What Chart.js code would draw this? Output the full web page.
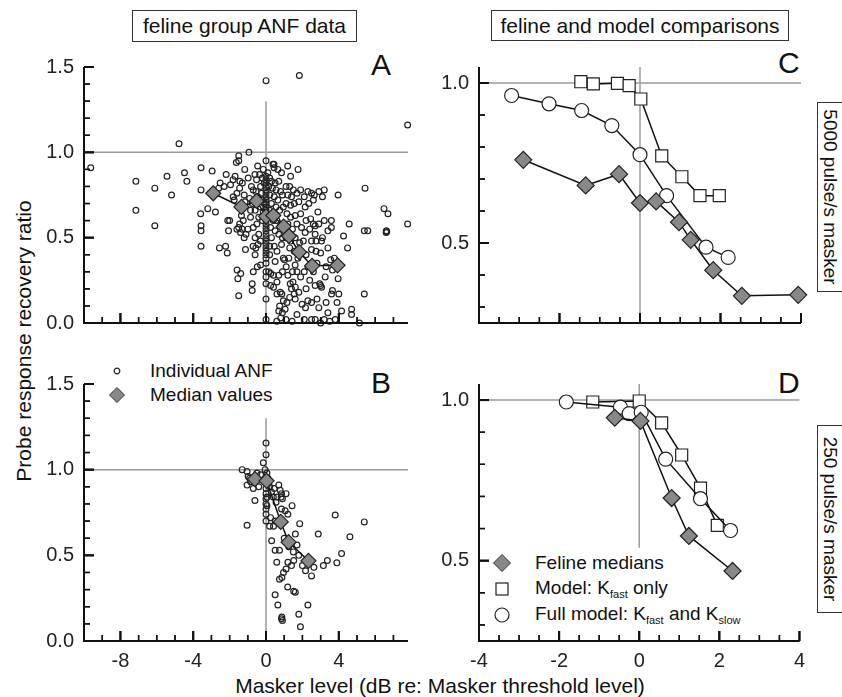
<!DOCTYPE html>
<html>
<head>
<meta charset="utf-8">
<script src="https://cdn.jsdelivr.net/npm/chart.js@4.4.1/dist/chart.umd.min.js"></script>
<style>
  body { margin: 0; background: #fff; }
  #page { position: relative; width: 842px; height: 697px; overflow: hidden;
          font-family: "Liberation Sans", Arial, sans-serif; color: #111; }
  #page canvas { position: absolute; }
  .t { position: absolute; white-space: nowrap; }
  .box { border: 1px solid #333; text-align: center; box-sizing: border-box; background: #fff; }
  .letter { font-size: 30px; }
  .leg { font-size: 19px; line-height: 22px; }
  .leg sub { font-size: 11px; vertical-align: -4px; }
  svg { position: absolute; overflow: visible; }
</style>
</head>
<body>
<div id="page">
  <div class="t box" style="left:132px;top:10px;width:225px;height:32px;font-size:21px;line-height:30px;">feline group ANF data</div>
  <div class="t box" style="left:491px;top:10px;width:298px;height:31px;font-size:21px;line-height:29px;">feline and model comparisons</div>

  <div class="t letter" style="left:371px;top:48px;">A</div>
  <div class="t letter" style="left:371px;top:366px;">B</div>
  <div class="t letter" style="left:778px;top:46px;">C</div>
  <div class="t letter" style="left:778px;top:366px;">D</div>

  <div class="t" style="left:-136px;top:329px;width:320px;height:24px;line-height:24px;text-align:center;font-size:21px;transform:rotate(-90deg);">Probe response recovery ratio</div>
  <div class="t" style="left:190px;top:674px;width:500px;text-align:center;font-size:21px;line-height:24px;">Masker level (dB re: Masker threshold level)</div>

  <div class="t box" style="left:735px;top:184px;width:190px;height:26px;line-height:24px;font-size:19px;transform:rotate(90deg);">5000 pulse/s masker</div>
  <div class="t box" style="left:736px;top:506px;width:188px;height:26px;line-height:24px;font-size:19px;transform:rotate(90deg);">250 pulse/s masker</div>

  <svg style="left:117px;top:371px" width="1" height="1"><circle cx="0" cy="0" r="2.8" fill="none" stroke="#222" stroke-width="1.2"/></svg>
  <div class="t leg" style="left:150px;top:360px;">Individual ANF</div>
  <svg style="left:117px;top:395px" width="1" height="1"><polygon points="-7.5,0 0,-7.5 7.5,0 0,7.5" fill="#888" stroke="#333" stroke-width="1"/></svg>
  <div class="t leg" style="left:150px;top:384px;">Median values</div>

  <svg style="left:502px;top:563px" width="1" height="1"><polygon points="-8.5,0 0,-8.5 8.5,0 0,8.5" fill="#888" stroke="#333" stroke-width="1"/></svg>
  <div class="t leg" style="left:535px;top:552px;">Feline medians</div>
  <svg style="left:502px;top:589px" width="1" height="1"><rect x="-6" y="-6" width="12" height="12" fill="#fff" stroke="#222" stroke-width="1.2"/></svg>
  <div class="t leg" style="left:535px;top:577px;">Model: K<sub>fast</sub> only</div>
  <svg style="left:502px;top:615px" width="1" height="1"><circle cx="0" cy="0" r="7" fill="#fff" stroke="#222" stroke-width="1.2"/></svg>
  <div class="t leg" style="left:535px;top:603px;">Full model: K<sub>fast</sub> and K<sub>slow</sub></div>
</div>

<script>
// --- tick labels ---
const xTicksAB = [-8, -4, 0, 4];
const yTicksAB = [0, 0.5, 1.0, 1.5];
const xTicksCD = [-4, -2, 0, 2, 4];
const yTicksCD = [0.5, 1.0];

// --- panel A : 5000 pulse/s, individual fibres + medians ---
const anf5000 = [
  [-9.63,0.91],[-7.15,0.83],[-7.15,0.66],[-6.11,0.79],[-6.11,0.57],[-5.44,0.86],[-5.19,0.75],[-4.78,1.05],
  [-4.48,0.88],[-4.35,0.83],[-3.57,0.91],[-3.57,0.78],[-2.96,0.89],[-3.59,0.64],[-3.2,0.67],[-3.57,0.57],
  [-3.57,0.54],[-3.57,0.45],[-2.78,0.65],[-2.56,0.44],[-2.22,0.45],[-2.13,0.41],
  [-1.5,0.98],[-0.94,1.0],[-1.5,0.95],[-1.17,0.9],[-2.19,0.87],[-1.81,0.84],[-2.52,0.82],[-1.44,0.83],
  [-0.98,0.85],[-2.6,0.79],[-2.3,0.8],[-1.95,0.81],[-1.7,0.86],[-1.63,0.94],[-1.6,0.76],[-1.75,0.72],
  [-1.45,0.79],[-1.3,0.82],[-1.2,0.75],[-1.15,0.71],[-1.8,0.74],[-2.0,0.6],[-2.06,0.54],[-2.1,0.6],
  [-1.6,0.55],[-1.5,0.56],[-1.4,0.53],[-1.3,0.55],[-1.2,0.5],[-1.1,0.52],[-1.0,0.55],[-1.25,0.6],
  [-1.13,0.43],[-1.59,0.31],[-1.39,0.29],[-1.55,0.26],[-1.5,0.16],[-1.45,0.58],[-1.35,0.63],
  [-0.46,0.92],[-0.61,0.87],[-0.52,0.84],[-0.8,0.8],[-0.7,0.78],[-0.55,0.77],[-0.45,0.74],[-0.3,0.8],
  [-0.25,0.76],[-0.2,0.72],[-0.9,0.73],[-0.75,0.7],[-0.6,0.66],[-0.4,0.62],[-0.85,0.62],[-0.7,0.56],
  [-0.5,0.58],[-0.6,0.5],[-0.4,0.52],[-0.3,0.48],[-0.71,0.45],[-0.44,0.46],[-0.56,0.44],[-0.76,0.23],
  [-0.76,0.19],[-0.48,0.33],[-0.3,0.34],[-0.7,0.3],[-0.6,0.4],[-0.2,0.6],[-0.15,0.65],[-0.1,0.7],
  [-0.2,0.85],[-0.1,0.82],[-0.35,0.87],[-0.15,0.9],[-0.85,0.66],[-0.3,0.68],
  [0,1.42],[0,0.95],[0,0.86],[0,0.84],[0,0.82],[0,0.8],[0,0.78],[0,0.76],[0,0.74],[0,0.72],[0,0.7],
  [0,0.68],[0,0.66],[0,0.64],[0,0.62],[0,0.6],[0,0.58],[0,0.56],[0,0.54],[0,0.52],[0,0.5],[0,0.48],
  [0,0.46],[0,0.44],[0,0.42],[0,0.4],[0,0.38],[0,0.35],[0,0.3],[0,0.27],[0,0.23],[0,0.14],[0,0.02],
  [0.44,0.93],[0.44,0.91],[0.38,0.93],[0.1,0.88],[0.2,0.85],[0.3,0.83],[0.5,0.82],[0.7,0.83],
  [0.15,0.8],[0.35,0.79],[0.55,0.78],[0.8,0.77],[0.2,0.75],[0.45,0.74],[0.65,0.72],[0.9,0.75],
  [0.3,0.7],[0.55,0.68],[0.75,0.66],[0.95,0.68],[0.2,0.66],[0.4,0.6],[0.6,0.6],[0.8,0.58],
  [0.25,0.56],[0.5,0.54],[0.7,0.52],[0.9,0.5],[0.3,0.5],[0.2,0.45],[0.45,0.45],[0.6,0.42],
  [0.85,0.46],[0.26,0.29],[0.41,0.28],[0.41,0.21],[0.5,0.36],[0.2,0.4],[0.15,0.3],[0.25,0.22],
  [0.6,0.17],[0.78,0.18],[0.87,0.17],[0.95,0.13],[0.6,0.24],[0.7,0.28],[0.59,0.01],[0.81,0.03],
  [0.9,0.06],[0.7,0.07],[0.75,0.1],[0.95,0.38],[0.9,0.3],[0.85,0.88],[0.65,0.9],[0.1,0.62],
  [1.19,0.92],[1.76,0.9],[1.1,0.8],[1.3,0.8],[1.5,0.78],[1.2,0.75],[1.4,0.74],[1.7,0.76],
  [1.9,0.78],[1.1,0.7],[1.35,0.69],[1.55,0.7],[1.8,0.71],[1.15,0.64],[1.35,0.62],[1.6,0.63],
  [1.9,0.64],[1.2,0.58],[1.45,0.55],[1.7,0.58],[1.95,0.56],[1.1,0.5],[1.35,0.48],[1.6,0.5],
  [1.85,0.47],[1.3,0.44],[1.55,0.42],[1.75,0.38],[1.02,0.37],[1.11,0.33],[1.33,0.23],[1.48,0.24],
  [1.61,0.21],[1.2,0.28],[1.45,0.3],[1.7,0.3],[1.9,0.27],[1.15,0.12],[1.05,0.08],[1.43,0.01],
  [1.3,0.15],[1.6,0.14],[1.8,0.18],[1.98,0.11],[1.7,0.05],[1.1,0.02],[1.83,1.45],[1.6,0.34],
  [1.25,0.38],[1.4,0.2],[1.55,0.17],[1.35,0.86],
  [2.17,0.09],[2.1,0.02],[2.5,0.02],[2.7,0.02],[3.0,0.0],[2.3,0.13],[2.5,0.12],[2.8,0.14],
  [2.9,0.09],[3.0,0.22],[2.95,0.23],[3.05,0.21],[2.2,0.2],[2.4,0.25],[2.7,0.22],[2.1,0.3],
  [2.3,0.33],[2.6,0.3],[2.8,0.35],[2.2,0.4],[2.5,0.43],[2.75,0.42],[3.0,0.41],[2.05,0.48],
  [2.5,0.48],[2.75,0.48],[3.05,0.48],[2.15,0.53],[2.4,0.55],[2.7,0.57],[2.9,0.58],[2.2,0.6],
  [2.45,0.61],[2.6,0.58],[2.15,0.68],[2.35,0.7],[2.6,0.72],[2.5,0.76],[2.65,0.75],[2.9,0.77],
  [3.2,0.78],[3.1,0.74],[2.3,0.77],[2.1,0.74],[2.85,0.65],[2.7,0.52],
  [3.59,0.6],[3.59,0.56],[3.96,0.75],[4.48,0.44],[4.26,0.51],[4.57,0.58],[3.65,0.31],[3.55,0.37],
  [3.75,0.38],[3.96,0.26],[3.65,0.19],[3.6,0.17],[3.9,0.12],[4.0,0.17],[4.15,0.07],[4.7,0.08],
  [4.7,0.05],[5.13,0.0],[5.4,0.17],[5.44,0.79],[5.4,0.54],[5.59,0.54],[6.48,0.67],[6.7,0.64],
  [6.61,0.54],[6.6,0.53],[6.63,0.535],[7.78,1.16],[7.78,0.58],[3.4,0.06],[3.2,0.02],[3.5,0.01],
  [3.8,0.02],[3.3,0.12],[3.3,0.33],[3.4,0.44],[3.4,0.54],[3.2,0.6],[3.1,0.5],[3.25,0.27]
];
const median5000 = [[-2.9,0.76],[-1.35,0.68],[-0.52,0.715],[0,0.625],[0.4,0.63],[0.97,0.565],[1.26,0.51],[1.82,0.415],[2.53,0.335],[3.93,0.338]];

// --- panel B : 250 pulse/s ---
const anf250 = [
  [0,1.155],[0,1.087],[-0.15,1.04],[-0.05,1.0],[0.05,0.98],[-1.31,1.0],[-1.04,0.99],[-0.98,0.96],
  [-1.04,0.91],[-0.7,0.89],[-0.61,0.82],[-1.04,0.676],[-0.5,0.98],[-0.3,0.97],[-0.85,0.93],[-0.9,0.95],
  [-0.4,0.9],[0,0.95],[0,0.92],[0,0.89],[0,0.86],[0,0.83],[0,0.8],[0,0.77],[0,0.74],[0,0.7],
  [0.05,0.79],[0.05,0.84],[0.2,0.9],[0.3,0.87],[0.45,0.89],[0.7,0.91],[0.78,0.88],[0.85,0.86],
  [0.83,0.84],[1.1,0.86],[0.4,0.84],[0.55,0.81],[0.6,0.84],[0.9,0.83],[1.43,0.79],[1.05,0.76],
  [1.2,0.74],[0.85,0.77],[0.41,0.67],[0.25,0.72],[1.85,0.685],[1.61,0.624],[2.87,0.624],[3.8,0.735],
  [5.4,0.695],[4.61,0.608],[4.15,0.51],[3.89,0.456],[3.37,0.47],[3.15,0.44],[2.63,0.43],[2.17,0.41],
  [2.5,0.38],[0.31,0.585],[0.5,0.53],[0.74,0.53],[0.59,0.46],[0.87,0.37],[1.1,0.42],[1.4,0.44],
  [1.2,0.46],[1.52,0.47],[1.7,0.56],[0.96,0.4],[0.74,0.36],[1.19,0.315],[1.52,0.29],[1.61,0.285],
  [0.5,0.27],[0.65,0.21],[0.87,0.14],[0.9,0.12],[0.85,0.13],[1.8,0.156],[2.3,0.21],[1.89,0.083],
  [0.2,0.67],[0.5,0.7],[1.0,0.6],[1.25,0.55],[1.5,0.52],[1.8,0.5],[2.0,0.44],[2.2,0.47],
  [0.1,0.95],[0.15,0.92]
];
const median250 = [[-0.61,0.945],[0.03,0.935],[0.81,0.695],[1.24,0.577],[2.33,0.468]];

// --- panels C and D : model comparisons ---
const kfast5000 = [[-1.47,1.004],[-1.16,0.997],[-0.56,0.999],[-0.27,0.992],[0.02,0.95],[0.54,0.772],[1.04,0.707],[1.49,0.648],[1.97,0.648]];
const full5000 = [[-3.19,0.961],[-2.26,0.935],[-1.45,0.914],[-0.7,0.867],[0,0.776],[0.66,0.648],[1.64,0.487],[2.19,0.455]];
const kfast250 = [[-1.16,0.994],[0,0.997],[0.56,0.929],[1.06,0.829],[1.53,0.726],[1.95,0.61]];
const full250 = [[-1.82,0.994],[-0.47,0.978],[-0.25,0.958],[0.05,0.962],[0.66,0.816],[1.53,0.693],[2.28,0.594]];

// reference lines (ratio = 1, masker level = 0)
const refA = { h: [[-10,1],[7.8,1]], v: [[0,0],[0,1.3]] };
const refB = { h: [[-10,1],[7.8,1]], v: [[0,0],[0,1.3]] };
const refC = { h: [[-4,1],[4.05,1]], v: [[0,0.25],[0,1.05]] };
const refD = { h: [[-4,1],[4.05,1]], v: [[0,0.54],[0,1.05]] };

Chart.defaults.font.family = '"Liberation Sans", Arial, sans-serif';

const pts = arr => arr.map(p => ({ x: p[0], y: p[1] }));

function refSets(ref) {
  return [ref.h, ref.v].map(d => ({
    data: pts(d), showLine: true, borderColor: '#9a9a9a', borderWidth: 1.5, pointRadius: 0
  }));
}

function lineSet(d, style, r, fill) {
  return {
    data: pts(d), showLine: true, borderColor: '#111', borderWidth: 1.5,
    pointStyle: style, pointRadius: r, pointBackgroundColor: fill,
    pointBorderColor: '#222', pointBorderWidth: 1.2, clip: 12
  };
}

function scatterSet(d) {
  return {
    data: pts(d), showLine: false, pointStyle: 'circle', pointRadius: 2.9,
    pointBackgroundColor: 'rgba(255,255,255,0)', pointBorderColor: '#222',
    pointBorderWidth: 1.2, clip: 6
  };
}

const isMajor = (v, m) => Math.abs(v / m - Math.round(v / m)) < 1e-6;

// axis frame (left + bottom) and inward tick marks, drawn as datasets on the panel's own scales
function axisSets(area, xr, yr, tk) {
  const xPerPx = (xr[1] - xr[0]) / (area.r - area.l);
  const yPerPx = (yr[1] - yr[0]) / (area.b - area.t);
  const sets = [{
    data: pts([[xr[0], yr[1]], [xr[0], yr[0]], [xr[1], yr[0]]]),
    showLine: true, borderColor: '#111', borderWidth: 2, pointRadius: 0, clip: false
  }];
  const tickSet = (data, len, rot, width) => ({
    data, showLine: false, pointStyle: 'line', pointRadius: len / 2, pointRotation: rot,
    pointBorderColor: '#111', pointBorderWidth: width, clip: false
  });
  [[10, true, 2], [6, false, 1.4]].forEach(([len, major, width]) => {
    const xs = [], ys = [];
    for (let k = Math.ceil(xr[0] / tk.xStep - 1e-6); k * tk.xStep <= xr[1] + 1e-6; k++) {
      const v = k * tk.xStep;
      if (isMajor(v, tk.xMajor) === major) xs.push({ x: v, y: yr[0] + (len / 2) * yPerPx });
    }
    for (let k = Math.ceil(yr[0] / tk.yStep - 1e-6); k * tk.yStep <= yr[1] + 1e-6; k++) {
      const v = k * tk.yStep;
      if (isMajor(v, tk.yMajor) === major) ys.push({ x: xr[0] + (len / 2) * xPerPx, y: v });
    }
    sets.push(tickSet(xs, len, 90, width), tickSet(ys, len, 0, width));
  });
  return sets;
}

// same frame again from a plugin, in case point styles are not rendered
function framePlugin(tk) {
  return {
    id: 'frame',
    afterDraw(chart) {
      const { ctx, chartArea: a } = chart;
      const x = chart.scales.x, y = chart.scales.y;
      ctx.save();
      ctx.strokeStyle = '#111';
      const marks = (scale, step, major, horiz) => {
        for (let k = Math.ceil(scale.min / step - 1e-6); k * step <= scale.max + 1e-6; k++) {
          const v = k * step;
          const big = isMajor(v, major);
          const len = big ? 10 : 6;
          ctx.lineWidth = big ? 2 : 1.4;
          ctx.beginPath();
          if (horiz) {
            const px = scale.getPixelForValue(v);
            ctx.moveTo(px, a.bottom); ctx.lineTo(px, a.bottom - len);
          } else {
            const py = scale.getPixelForValue(v);
            ctx.moveTo(a.left, py); ctx.lineTo(a.left + len, py);
          }
          ctx.stroke();
        }
      };
      marks(x, tk.xStep, tk.xMajor, true);
      marks(y, tk.yStep, tk.yMajor, false);
      ctx.lineWidth = 2;
      ctx.beginPath();
      ctx.moveTo(a.left, a.top); ctx.lineTo(a.left, a.bottom); ctx.lineTo(a.right, a.bottom);
      ctx.stroke();
      ctx.restore();
    }
  };
}

// each panel gets its own canvas (cv = canvas box on the page), no overlap between canvases
function panel(cv, area, xr, yr, xLabels, yLabels, tk, datasets) {
  const el = document.createElement('canvas');
  el.width = cv.w; el.height = cv.h;
  el.style.left = cv.x + 'px'; el.style.top = cv.y + 'px';
  document.getElementById('page').appendChild(el);
  new Chart(el.getContext('2d'), {
    type: 'scatter',
    data: { datasets: [...axisSets(area, xr, yr, tk), ...datasets] },
    options: {
      responsive: false, animation: false, devicePixelRatio: 1,
      layout: { padding: {
        left: area.l - cv.x - 40, top: area.t - cv.y,
        right: cv.x + cv.w - area.r, bottom: cv.y + cv.h - area.b - 30 } },
      plugins: { legend: { display: false }, tooltip: { enabled: false } },
      scales: {
        x: {
          type: 'linear', min: xr[0], max: xr[1],
          grid: { display: false, drawTicks: false }, border: { display: false },
          ticks: { display: xLabels.length > 0, padding: 8, color: '#222', font: { size: 20 },
                   callback: v => String(v) },
          afterBuildTicks: s => { s.ticks = xLabels.map(v => ({ value: v })); },
          afterFit: s => { s.height = 30; }
        },
        y: {
          type: 'linear', min: yr[0], max: yr[1],
          grid: { display: false, drawTicks: false }, border: { display: false },
          ticks: { padding: 10, color: '#222', font: { size: 20 }, callback: v => Number(v).toFixed(1) },
          afterBuildTicks: s => { s.ticks = yLabels.map(v => ({ value: v })); },
          afterFit: s => { s.width = 40; }
        }
      }
    },
    plugins: [framePlugin(tk)]
  });
}

const ticksAB = { xStep: 1, xMajor: 4, yStep: 0.1, yMajor: 0.5 };
const ticksCD = { xStep: 0.5, xMajor: 2, yStep: 0.1, yMajor: 0.5 };

panel({ x: 0, y: 45, w: 421, h: 310 }, { l: 84, t: 65, r: 408, b: 323 }, [-10, 7.8], [0, 1.5], [], yTicksAB, ticksAB,
  [lineSet(median5000, 'rectRot', 7.5, '#888'), scatterSet(anf5000), ...refSets(refA)]);

panel({ x: 0, y: 362, w: 421, h: 335 }, { l: 84, t: 382, r: 408, b: 641 }, [-10, 7.8], [0, 1.5], xTicksAB, yTicksAB, ticksAB,
  [lineSet(median250, 'rectRot', 7.5, '#888'), scatterSet(anf250), ...refSets(refB)]);

panel({ x: 421, y: 45, w: 392, h: 310 }, { l: 479, t: 65, r: 801, b: 323 }, [-4, 4], [0.25, 1.05], [], yTicksCD, ticksCD,
  [lineSet(median5000, 'rectRot', 8.5, '#888'), lineSet(full5000, 'circle', 7, '#fff'),
   lineSet(kfast5000, 'rect', 8.5, '#fff'), ...refSets(refC)]);

panel({ x: 421, y: 362, w: 392, h: 335 }, { l: 479, t: 382, r: 801, b: 641 }, [-4, 4], [0.25, 1.05], xTicksCD, yTicksCD, ticksCD,
  [lineSet(median250, 'rectRot', 8.5, '#888'), lineSet(full250, 'circle', 7, '#fff'),
   lineSet(kfast250, 'rect', 8.5, '#fff'), ...refSets(refD)]);
</script>
</body>
</html>
